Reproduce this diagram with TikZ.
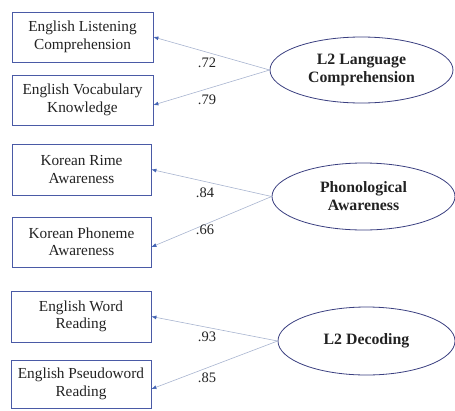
\documentclass[tikz,border=0pt]{standalone}
\usepackage{fontspec}
\setmainfont{Liberation Serif}
\usetikzlibrary{shapes.geometric,arrows.meta}

\definecolor{boxblue}{HTML}{4A5AA6}
\definecolor{ellblue}{HTML}{3A3F80}
\definecolor{linegray}{HTML}{A8B4D0}
\definecolor{tipblue}{HTML}{4565B5}
\definecolor{txt}{HTML}{222222}

\begin{document}
\begin{tikzpicture}[x=1pt,y=-1pt]
  \useasboundingbox (0,0) rectangle (455,410);

  % Define styles for observed and latent variables
  \tikzset{
    obsbox/.style={draw=boxblue, thick, rectangle, minimum width=141pt, minimum height=50pt,
      align=center, text=txt, font=\fontsize{15.3}{17.5}\selectfont, inner sep=0pt},
    latent/.style={draw=ellblue, thick, ellipse, minimum width=183pt, minimum height=66pt,
      align=center, text=txt, font=\fontsize{15.8}{18}\selectfont\bfseries, inner sep=0pt},
    load/.style={draw=linegray, line width=0.6pt, -{Latex[length=5pt,width=4pt,color=tipblue]}},
    coef/.style={text=txt, font=\fontsize{14.5}{16}\selectfont}
  }

  % Observed indicators
  \node[obsbox] (elc) at (82.5,37)  {English Listening\\Comprehension};
  \node[obsbox] (evk) at (82.5,100) {English Vocabulary\\Knowledge};
  \node[obsbox, minimum width=139pt, minimum height=51pt] (kra) at (81.5,169.5) {Korean Rime\\Awareness};
  \node[obsbox, minimum width=139pt] (kpa) at (81.5,242) {Korean Phoneme\\Awareness};
  \node[obsbox, minimum width=140pt, minimum height=51pt] (ewr) at (81,316.5) {English Word\\Reading};
  \node[obsbox, minimum width=140pt, minimum height=48pt] (epr) at (81,384) {English Pseudoword\\Reading};

  % Latent factors
  \node[latent] (lc) at (361.5,70)  {L2 Language\\Comprehension};
  \node[latent, minimum height=67pt] (pa) at (363.5,196.5) {Phonological\\Awareness};
  \node[latent, minimum width=177pt, minimum height=68pt] (dec) at (366.5,341) {L2 Decoding};

  % Factor loadings
  \draw[load] (lc.west) -- (elc.east);
  \draw[load] (lc.west) -- ([yshift=-5pt]evk.east);
  \draw[load] (pa.west) -- (kra.east);
  \draw[load] (pa.west) -- ([yshift=-5pt]kpa.east);
  \draw[load] (dec.west) -- (ewr.east);
  \draw[load] (dec.west) -- ([yshift=-5pt]epr.east);

  % Coefficients
  \node[coef] (c1) at (207,63)  {.72};
  \node[coef] (c2) at (207,100) {.79};
  \node[coef] (c3) at (205,193) {.84};
  \node[coef] (c4) at (205,230) {.66};
  \node[coef] (c5) at (207,337) {.93};
  \node[coef] (c6) at (207,378) {.85};

\end{tikzpicture}
\end{document}
